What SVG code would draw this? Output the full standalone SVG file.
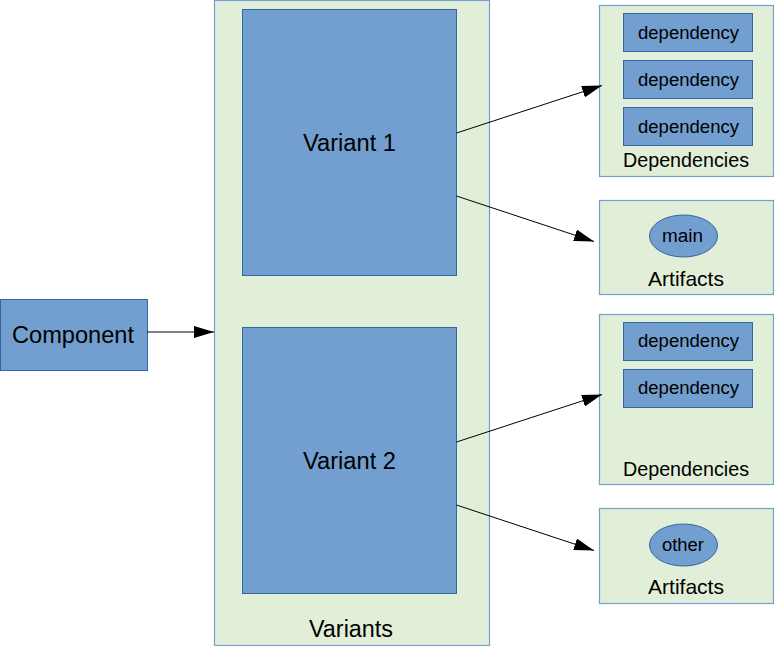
<svg xmlns="http://www.w3.org/2000/svg" width="774" height="646" viewBox="0 0 774 646">
<defs>
<style>
.cont{fill:#e2efd8;stroke:#729fcf;stroke-width:1.2}
.blue{fill:#729fcf;stroke:#3465a4;stroke-width:1}
.t{font-family:"Liberation Sans",Arial,sans-serif;fill:#000;text-anchor:middle}
.dep{font-size:18px}
.edge{stroke:#000;stroke-width:1;fill:none;marker-end:url(#arr)}
</style>
<marker id="arr" viewBox="0 0 20 12" refX="20" refY="6" markerWidth="20" markerHeight="12" markerUnits="userSpaceOnUse" orient="auto">
<path d="M0,0 L20,6 L0,12 Z" fill="#000"/>
</marker>
</defs>
<rect width="774" height="646" fill="#fff"/>
<g id="variants">
<rect class="cont" x="214.5" y="0.5" width="275" height="645"/>
<text class="t" x="351" y="637" font-size="23" textLength="84" lengthAdjust="spacingAndGlyphs">Variants</text>
</g>
<g id="variant1">
<rect class="blue" x="242.5" y="9.5" width="214" height="266"/>
<text class="t" x="349.5" y="151" font-size="23" textLength="93" lengthAdjust="spacingAndGlyphs">Variant 1</text>
</g>
<g id="variant2">
<rect class="blue" x="242.5" y="327.5" width="214" height="266"/>
<text class="t" x="349.5" y="469" font-size="23" textLength="93" lengthAdjust="spacingAndGlyphs">Variant 2</text>
</g>
<g id="component">
<rect class="blue" x="0.5" y="299.5" width="147" height="71"/>
<text class="t" x="73" y="343" font-size="23" textLength="122" lengthAdjust="spacingAndGlyphs">Component</text>
</g>
<g id="dependencies1">
<rect class="cont" x="599.5" y="5.5" width="174" height="171"/>
<rect class="blue" x="623.5" y="13.5" width="129" height="38"/>
<text class="t dep" x="688.5" y="39" textLength="101" lengthAdjust="spacingAndGlyphs">dependency</text>
<rect class="blue" x="623.5" y="60.5" width="129" height="38"/>
<text class="t dep" x="688.5" y="86" textLength="101" lengthAdjust="spacingAndGlyphs">dependency</text>
<rect class="blue" x="623.5" y="107.5" width="129" height="38"/>
<text class="t dep" x="688.5" y="133" textLength="101" lengthAdjust="spacingAndGlyphs">dependency</text>
<text class="t" x="686" y="167" font-size="20" textLength="126" lengthAdjust="spacingAndGlyphs">Dependencies</text>
</g>
<g id="artifacts1">
<rect class="cont" x="599.5" y="200.5" width="174" height="94"/>
<ellipse class="blue" cx="683.5" cy="236" rx="34" ry="21"/>
<text class="t dep" x="682.5" y="242" textLength="41" lengthAdjust="spacingAndGlyphs">main</text>
<text class="t" x="686" y="286" font-size="21" textLength="76" lengthAdjust="spacingAndGlyphs">Artifacts</text>
</g>
<g id="dependencies2">
<rect class="cont" x="599.5" y="314.5" width="174" height="170"/>
<rect class="blue" x="623.5" y="322.5" width="129" height="38"/>
<text class="t dep" x="688.5" y="347" textLength="101" lengthAdjust="spacingAndGlyphs">dependency</text>
<rect class="blue" x="623.5" y="369.5" width="129" height="38"/>
<text class="t dep" x="688.5" y="394" textLength="101" lengthAdjust="spacingAndGlyphs">dependency</text>
<text class="t" x="686" y="476" font-size="20" textLength="126" lengthAdjust="spacingAndGlyphs">Dependencies</text>
</g>
<g id="artifacts2">
<rect class="cont" x="599.5" y="508.5" width="174" height="95"/>
<ellipse class="blue" cx="683.5" cy="545" rx="34" ry="21"/>
<text class="t dep" x="683" y="551" textLength="42" lengthAdjust="spacingAndGlyphs">other</text>
<text class="t" x="686" y="594" font-size="21" textLength="76" lengthAdjust="spacingAndGlyphs">Artifacts</text>
</g>
<g id="connectors">
<path class="edge" d="M147,332 L214,332"/>
<path class="edge" d="M456.5,133 L602,85.5"/>
<path class="edge" d="M456.5,196 L594,241.5"/>
<path class="edge" d="M456.5,442 L602,394.5"/>
<path class="edge" d="M456.5,505 L594,550.5"/>
</g>
</svg>
